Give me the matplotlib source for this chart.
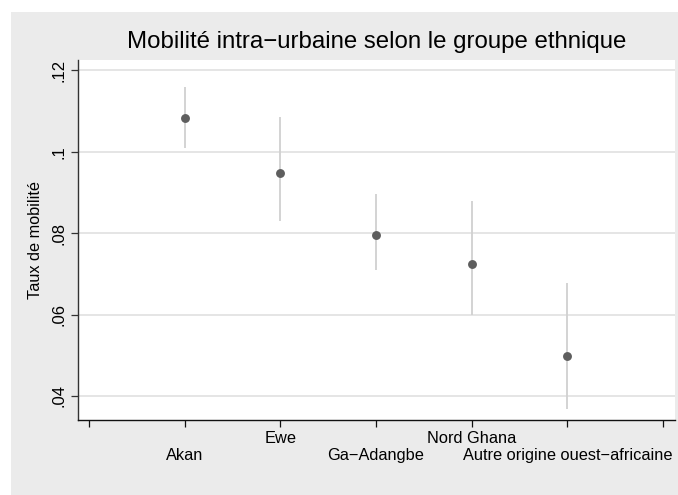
import matplotlib
matplotlib.use("Agg")
import matplotlib.pyplot as plt
from matplotlib.patches import Rectangle

plt.rcParams['font.family'] = ['Liberation Sans', 'DejaVu Sans']

# Intra-urban mobility rate by ethnic group, with 95% confidence bounds
groups = ["Akan", "Ewe", "Ga\u2212Adangbe", "Nord Ghana", "Autre origine ouest\u2212africaine"]
rate = [0.1082, 0.0948, 0.0795, 0.0723, 0.0499]
ci_low = [0.1010, 0.0831, 0.0709, 0.0598, 0.0367]
ci_high = [0.1160, 0.1085, 0.0895, 0.0879, 0.0678]
positions = [1, 2, 3, 4, 5]
y_ticks = [0.04, 0.06, 0.08, 0.10, 0.12]
y_tick_labels = [".04", ".06", ".08", ".1", ".12"]

W, H = 678, 495
fig = plt.figure(figsize=(W / 100, H / 100), dpi=100)
fig.patch.set_facecolor("white")

# light gray graph region
fig.patches.append(Rectangle((11 / W, 0), 1 - 11 / W, (H - 12) / H,
                             transform=fig.transFigure, facecolor="#EBEBEB",
                             edgecolor="none", zorder=-10))

left, right, top, bottom = 77.5, 675.0, 60.0, 420.3
ax = fig.add_axes([left / W, 1 - bottom / H, (right - left) / W, (bottom - top) / H])
ax.set_facecolor("white")

ax.set_xlim(-0.12, 6.125)
ax.set_ylim(0.03403, 0.12253)

# grid
ax.set_yticks(y_ticks)
ax.set_yticklabels(y_tick_labels, rotation=90, va="center", fontsize=12)
ax.yaxis.grid(True, color="#E0E0E0", linewidth=1.2, zorder=0)
ax.xaxis.grid(False)
ax.set_axisbelow(True)

# confidence intervals and point estimates
ax.vlines(positions, ci_low, ci_high, color="#D0D0D0", linewidth=1.3, zorder=2)
ax.plot(positions, rate, linestyle="none", marker="o", markersize=6.4,
        color="#5E5E5E", markeredgewidth=0, zorder=3)

# axes styling
for s in ("top", "right"):
    ax.spines[s].set_visible(False)
ax.spines["left"].set_color("#333333")
ax.spines["bottom"].set_color("#111111")
ax.spines["left"].set_linewidth(1.0)
ax.spines["bottom"].set_linewidth(1.0)
ax.tick_params(axis="y", length=4.7, width=0.9, color="#333333", pad=3.5, labelsize=12)
ax.tick_params(axis="x", length=5.0, width=0.9, color="#111111")

ax.set_xticks(range(0, 7))
ax.set_xticklabels([])

# staggered category labels
for i, (x, g) in enumerate(zip(positions, groups)):
    off = 16.6 if i % 2 == 1 else 28.6
    ax.annotate(g, xy=(x, 0), xycoords=("data", "axes fraction"),
                xytext=(0, -off), textcoords="offset points",
                ha="center", va="baseline", fontsize=11.8, color="black",
                annotation_clip=False)

fig.text(36 / W, 1 - (top + bottom) / 2 / H, "Taux de mobilité", rotation=90,
         ha="center", va="center", fontsize=11.7)

fig.text((left + right) / 2 / W, 1 - 48.3 / H,
         "Mobilité intra\u2212urbaine selon le groupe ethnique",
         ha="center", va="baseline", fontsize=17.3)

fig.savefig("out.png", dpi=100)
